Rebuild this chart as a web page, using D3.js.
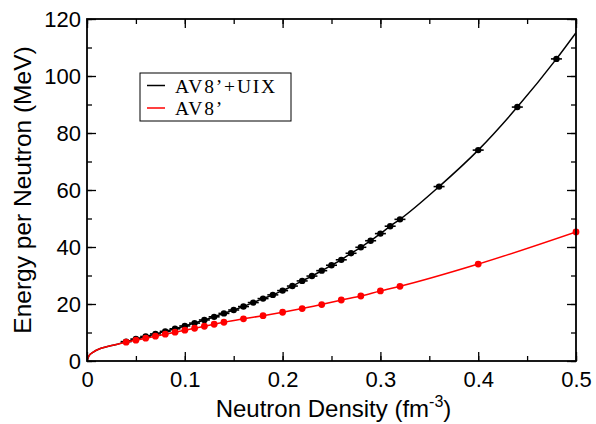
<!DOCTYPE html>
<html>
<head>
<meta charset="utf-8">
<script src="https://cdn.jsdelivr.net/npm/d3@7"></script>
<style>
  html, body { margin: 0; padding: 0; background: #fff; }
  svg { display: block; }
</style>
</head>
<body>
<svg id="chart" width="596" height="424"></svg>
<script>
// ---- data ----
const densityUIX = [0.04,0.05,0.06,0.07,0.08,0.09,0.10,0.11,0.12,0.13,0.14,0.15,0.16,0.17,0.18,0.19,0.20,0.21,0.22,0.23,0.24,0.25,0.26,0.27,0.28,0.29,0.30,0.31,0.32,0.36,0.40,0.44,0.48];
const energyUIX  = [6.8,7.7,8.6,9.5,10.4,11.3,12.3,13.3,14.4,15.5,16.7,17.9,19.1,20.5,21.9,23.2,24.7,26.3,28.1,29.8,31.7,33.6,35.5,37.8,39.9,42.2,44.7,47.3,49.7,61.2,74.0,89.1,106.0];
const densityAV8 = [0.04,0.05,0.06,0.07,0.08,0.09,0.10,0.11,0.12,0.13,0.14,0.16,0.18,0.20,0.22,0.24,0.26,0.28,0.30,0.32,0.40,0.50];
const energyAV8  = [6.6,7.3,8.0,8.7,9.4,10.1,10.8,11.5,12.2,12.9,13.6,14.8,15.9,17.1,18.4,19.8,21.4,22.8,24.6,26.2,34.0,45.3];
// fitted curves: low-density part (shared) and high-density end
const lowDensity = [0, 0.002, 0.006, 0.013, 0.02, 0.03];
const lowEnergy  = [0, 1.8, 3.0, 4.3, 5.0, 5.8];
const endDensityUIX = [0.50];
const endEnergyUIX  = [115.2];
const xTicks = [0, 0.1, 0.2, 0.3, 0.4, 0.5];
const yTicks = [0, 20, 40, 60, 80, 100, 120];
const legendLabels = ["AV8\u2019+UIX", "AV8\u2019"];
const seriesColors = ["#000000", "#ff0000"];

// ---- layout ----
const svg = d3.select("#chart");
const L = 87, R = 576, T = 19, B = 361;
const x = d3.scaleLinear().domain([0, 0.5]).range([L, R]);
const y = d3.scaleLinear().domain([0, 120]).range([B, T]);

const zip = (xs, ys) => xs.map((d, i) => [d, ys[i]]);
const uixPts = zip(densityUIX, energyUIX);
const av8Pts = zip(densityAV8, energyAV8);
const uixCurve = zip(lowDensity, lowEnergy).concat(uixPts, zip(endDensityUIX, endEnergyUIX));
const av8Curve = zip(lowDensity, lowEnergy).concat(av8Pts);

svg.append("defs").append("clipPath").attr("id", "clip")
  .append("rect").attr("x", L).attr("y", T).attr("width", R - L).attr("height", B - T);

const line = d3.line().x(d => x(d[0])).y(d => y(d[1])).curve(d3.curveMonotoneX);
const plot = svg.append("g").attr("clip-path", "url(#clip)");

// black curve + markers
plot.append("path").datum(uixCurve).attr("d", line)
  .attr("fill", "none").attr("stroke", seriesColors[0]).attr("stroke-width", 1.5);
const gU = plot.append("g");
gU.selectAll("line").data(uixPts).join("line")
  .attr("x1", d => x(d[0]) - 5.5).attr("x2", d => x(d[0]) + 5.5)
  .attr("y1", d => y(d[1])).attr("y2", d => y(d[1]))
  .attr("stroke", seriesColors[0]).attr("stroke-width", 1.6);
gU.selectAll("circle").data(uixPts).join("circle")
  .attr("cx", d => x(d[0])).attr("cy", d => y(d[1])).attr("r", 3.2)
  .attr("fill", seriesColors[0]);

// red curve + markers
plot.append("path").datum(av8Curve).attr("d", line)
  .attr("fill", "none").attr("stroke", seriesColors[1]).attr("stroke-width", 1.5);
svg.append("g").selectAll("circle").data(av8Pts).join("circle")
  .attr("cx", d => x(d[0])).attr("cy", d => y(d[1])).attr("r", 3.4)
  .attr("fill", seriesColors[1]);

// ---- axes (ticks inside, on all four sides) ----
const font = "'Liberation Sans', Arial, Helvetica, sans-serif";
const xMinor = d3.range(0, 0.5001, 0.05);
const yMinor = d3.range(0, 120.01, 10);

const axB = svg.append("g").attr("transform", `translate(0,${B})`)
  .call(d3.axisBottom(x).tickValues(xMinor).tickSize(-5).tickFormat(""));
const axB2 = svg.append("g").attr("transform", `translate(0,${B})`)
  .call(d3.axisBottom(x).tickValues(xTicks).tickSize(-9).tickPadding(10).tickFormat(d => d3.format("")(d)));
const axT = svg.append("g").attr("transform", `translate(0,${T})`)
  .call(d3.axisTop(x).tickValues(xMinor).tickSize(-5).tickFormat(""));
const axT2 = svg.append("g").attr("transform", `translate(0,${T})`)
  .call(d3.axisTop(x).tickValues(xTicks).tickSize(-9).tickFormat(""));
const axL = svg.append("g").attr("transform", `translate(${L},0)`)
  .call(d3.axisLeft(y).tickValues(yMinor).tickSize(-5).tickFormat(""));
const axL2 = svg.append("g").attr("transform", `translate(${L},0)`)
  .call(d3.axisLeft(y).tickValues(yTicks).tickSize(-9).tickPadding(6).tickFormat(d3.format("d")));
const axR = svg.append("g").attr("transform", `translate(${R},0)`)
  .call(d3.axisRight(y).tickValues(yMinor).tickSize(-5).tickFormat(""));
const axR2 = svg.append("g").attr("transform", `translate(${R},0)`)
  .call(d3.axisRight(y).tickValues(yTicks).tickSize(-9).tickFormat(""));

[axB, axB2, axT, axT2, axL, axL2, axR, axR2].forEach(g => {
  g.select(".domain").remove();
  g.selectAll(".tick line").attr("stroke", "#000").attr("stroke-width", 1.3);
  g.selectAll("text").attr("fill", "#000").style("font-family", font).style("font-size", "22px");
});
axL2.selectAll("text").attr("dy", "0.36em");

// frame
svg.append("rect").attr("x", L).attr("y", T).attr("width", R - L).attr("height", B - T)
  .attr("fill", "none").attr("stroke", "#000").attr("stroke-width", 1.8);

// axis titles
const xt = svg.append("text").attr("x", (L + R) / 2 + 2).attr("y", 417)
  .attr("text-anchor", "middle").style("font-family", font).style("font-size", "24px").attr("fill", "#000");
xt.append("tspan").text("Neutron Density (fm");
xt.append("tspan").text("-3").attr("dy", -10).style("font-size", "16px");
xt.append("tspan").text(")").attr("dy", 10);

svg.append("text").attr("transform", `translate(31,${(T + B) / 2}) rotate(-90)`)
  .attr("text-anchor", "middle").style("font-family", font).style("font-size", "24.5px").attr("fill", "#000")
  .text("Energy per Neutron (MeV)");

// legend
const lg = svg.append("g");
lg.append("rect").attr("x", 140).attr("y", 73).attr("width", 151).attr("height", 48)
  .attr("fill", "#fff").attr("stroke", "#000").attr("stroke-width", 1);
legendLabels.forEach((lab, i) => {
  const yy = 85.5 + i * 22.5;
  lg.append("line").attr("x1", 147).attr("x2", 165).attr("y1", yy).attr("y2", yy)
    .attr("stroke", seriesColors[i]).attr("stroke-width", 1.5);
  lg.append("text").attr("x", 175).attr("y", yy + 7)
    .style("font-family", "'Liberation Serif', 'Times New Roman', serif").style("font-size", "19.5px")
    .style("letter-spacing", "1.8px")
    .attr("fill", "#000").text(lab);
});
</script>
</body>
</html>
